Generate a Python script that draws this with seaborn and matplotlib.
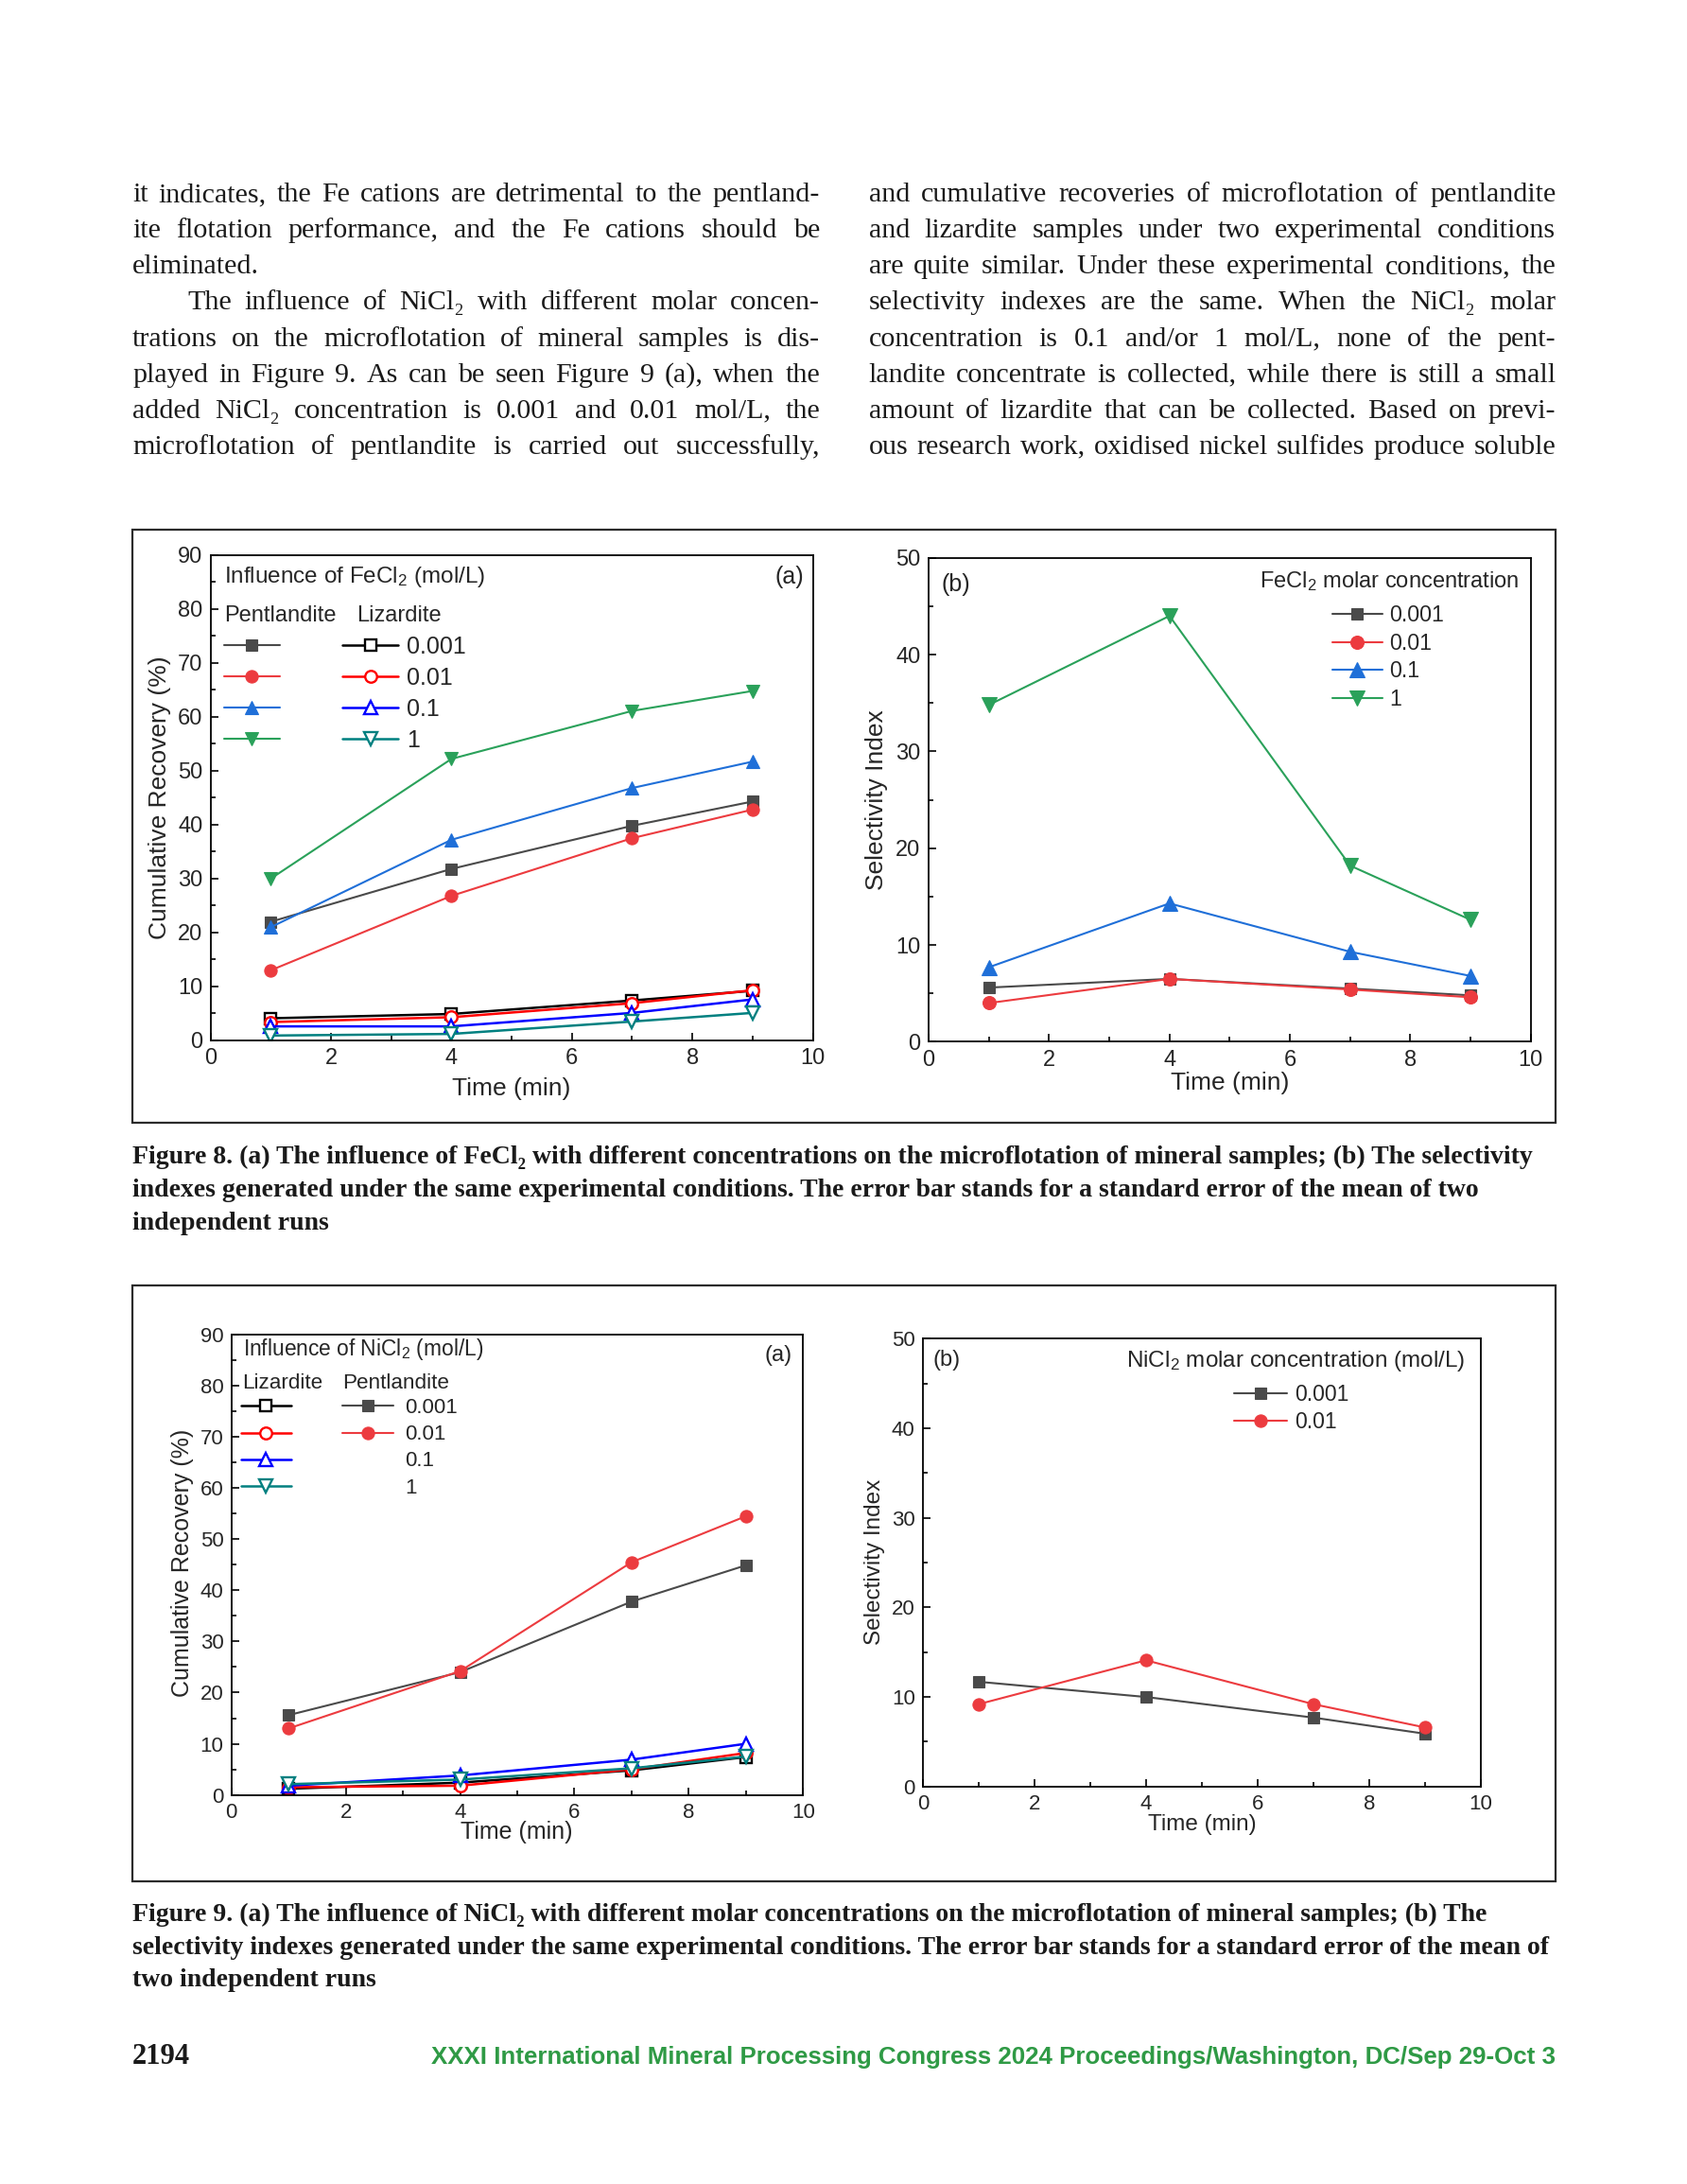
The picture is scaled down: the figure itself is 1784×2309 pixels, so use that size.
import matplotlib
matplotlib.use('Agg')
import matplotlib.pyplot as plt
import seaborn as sns
from matplotlib.lines import Line2D
from matplotlib.patches import Rectangle
from matplotlib.ticker import MultipleLocator

sns.set_style('ticks')
SANS = ['Liberation Sans', 'DejaVu Sans']
SERIF = ['Liberation Serif', 'DejaVu Serif']
plt.rcParams['font.family'] = SANS
plt.rcParams['mathtext.fontset'] = 'custom'
plt.rcParams['mathtext.rm'] = 'Liberation Sans'
plt.rcParams['mathtext.it'] = 'Liberation Sans:italic'

# ---------------------------------------------------------
# Data
# ---------------------------------------------------------
time_min = [1, 4, 7, 9]
conc_labels = ['0.001', '0.01', '0.1', '1']

# Figure 8 (a): FeCl2, cumulative recovery (%)
fe_pent_0001 = [22.0, 31.8, 39.8, 44.3]
fe_pent_001 = [13.0, 26.8, 37.5, 42.8]
fe_pent_01 = [21.0, 37.2, 46.8, 51.7]
fe_pent_1 = [30.0, 52.2, 61.1, 64.8]
fe_liz_0001 = [4.1, 4.9, 7.4, 9.2]
fe_liz_001 = [3.4, 4.3, 6.9, 9.3]
fe_liz_01 = [2.6, 2.6, 5.1, 7.6]
fe_liz_1 = [0.9, 1.2, 3.5, 5.1]

# Figure 8 (b): FeCl2, selectivity index
fe_sel_0001 = [5.6, 6.5, 5.5, 4.8]
fe_sel_001 = [4.0, 6.5, 5.4, 4.6]
fe_sel_01 = [7.7, 14.3, 9.3, 6.8]
fe_sel_1 = [34.8, 44.0, 18.2, 12.6]

# Figure 9 (a): NiCl2, cumulative recovery (%)
ni_pent_0001 = [15.6, 24.0, 37.8, 44.9]
ni_pent_001 = [13.0, 24.2, 45.5, 54.5]
ni_liz_0001 = [1.2, 2.4, 4.8, 7.4]
ni_liz_001 = [1.5, 1.8, 5.0, 8.2]
ni_liz_01 = [1.8, 3.8, 6.9, 10.0]
ni_liz_1 = [2.1, 3.0, 5.2, 7.5]

# Figure 9 (b): NiCl2, selectivity index
ni_sel_0001 = [11.7, 10.0, 7.7, 5.9]
ni_sel_001 = [9.2, 14.1, 9.2, 6.6]

left_column = [
    "it indicates, the Fe cations are detrimental to the pentland-",
    "ite flotation performance, and the Fe cations should be",
    "eliminated.",
    "The influence of NiCl\u2082 with different molar concen-",
    "trations on the microflotation of mineral samples is dis-",
    "played in Figure 9. As can be seen Figure 9 (a), when the",
    "added NiCl\u2082 concentration is 0.001 and 0.01 mol/L, the",
    "microflotation of pentlandite is carried out successfully,",
]
right_column = [
    "and cumulative recoveries of microflotation of pentlandite",
    "and lizardite samples under two experimental conditions",
    "are quite similar. Under these experimental conditions, the",
    "selectivity indexes are the same. When the NiCl\u2082 molar",
    "concentration is 0.1 and/or 1 mol/L, none of the pent-",
    "landite concentrate is collected, while there is still a small",
    "amount of lizardite that can be collected. Based on previ-",
    "ous research work, oxidised nickel sulfides produce soluble",
]
caption8 = [
    "Figure 8. (a) The influence of FeCl\u2082 with different concentrations on the microflotation of mineral samples; (b) The selectivity",
    "indexes generated under the same experimental conditions. The error bar stands for a standard error of the mean of two",
    "independent runs",
]
caption9 = [
    "Figure 9. (a) The influence of NiCl\u2082 with different molar concentrations on the microflotation of mineral samples; (b) The",
    "selectivity indexes generated under the same experimental conditions. The error bar stands for a standard error of the mean of",
    "two independent runs",
]
footer = 'XXXI International Mineral Processing Congress 2024 Proceedings/Washington, DC/Sep 29-Oct 3'

# ---------------------------------------------------------
# Styles
# ---------------------------------------------------------
PENT_COLORS = ['#4a4a4a', '#ec3b3f', '#1f6fd8', '#2aa15a']
LIZ_COLORS = ['#000000', '#ff0000', '#0000ff', '#008080']
MARKERS = ['s', 'o', '^', 'v']
MSIZE = [8.5, 9.5, 10.5, 10.5]

DPI = 100
FIG_W, FIG_H = 1784, 2309
PAGE_W, PAGE_H = 1210, 1566   # layout grid used for measuring the page


def fx(x):
    return x / PAGE_W


def fy(y):
    return 1 - y / PAGE_H


def rect(l, t, r, b):
    return [fx(l), fy(b), (r - l) / PAGE_W, (b - t) / PAGE_H]


def style_axes(ax, ymax, ystep, tick_size):
    ax.set_xlim(0, 10)
    ax.set_ylim(0, ymax)
    ax.xaxis.set_major_locator(MultipleLocator(2))
    ax.xaxis.set_minor_locator(MultipleLocator(1))
    ax.yaxis.set_major_locator(MultipleLocator(ystep))
    ax.yaxis.set_minor_locator(MultipleLocator(ystep / 2))
    ax.tick_params(which='both', direction='in', top=False, right=False,
                   width=1.2, color='black')
    ax.tick_params(which='major', length=6, pad=6, labelsize=tick_size)
    ax.tick_params(which='minor', length=3.5)
    for s in ax.spines.values():
        s.set_linewidth(1.3)
        s.set_color('black')
        s.set_visible(True)


def draw_series(ax, vals, color, marker, ms, open_marker=False, lw=1.5):
    sns.lineplot(x=time_min, y=vals, ax=ax, color=color, marker=marker,
                 markersize=ms, markeredgecolor=color,
                 markerfacecolor='white' if open_marker else color,
                 markeredgewidth=1.7 if open_marker else 0.8,
                 linewidth=lw, label='_s')


def set_labels(ax, xlab, ylab, size, xpos, ypos):
    ax.set_xlabel(xlab, fontsize=size, va='center')
    ax.set_ylabel(ylab, fontsize=size, va='center')
    ax.xaxis.set_label_coords(*xpos)
    ax.yaxis.set_label_coords(*ypos)


fig = plt.figure(figsize=(FIG_W / DPI, FIG_H / DPI), dpi=DPI)
fig.patch.set_facecolor('white')
renderer = fig.canvas.get_renderer()


def text_width(text, size, **kw):
    t = fig.text(0, 0, text, fontsize=size, **kw)
    w = t.get_window_extent(renderer).width
    t.remove()
    return w


def fit_size(lines, avail, base, **kw):
    # largest size at which every line keeps within its width
    ratios = [text_width(l, base, **kw) / (a / PAGE_W * FIG_W) for l, a in zip(lines, avail)]
    return base / max(ratios)


def body_line(text, x0, x1, y, size, justify=True):
    words = text.split(' ')
    arts = [fig.text(0, fy(y), w, fontsize=size, family=SERIF, va='baseline',
                     color='#1a1a1a') for w in words]
    widths = [a.get_window_extent(renderer).width for a in arts]
    left = x0 / PAGE_W * FIG_W
    right = x1 / PAGE_W * FIG_W
    if justify and len(words) > 1:
        gap = (right - left - sum(widths)) / (len(words) - 1)
    else:
        gap = size * DPI / 72 * 0.25
    pos = left
    for a, w in zip(arts, widths):
        a.set_x(pos / FIG_W)
        pos += w + gap


# ---------------------------------------------------------
# Body text (two justified columns)
# ---------------------------------------------------------
just_lines = [l for i, l in enumerate(left_column) if i != 2] + right_column
just_avail = [588 - (134.5 if l.startswith('The ') else 95) for l in just_lines[:7]] + [493] * 8
BODY_SIZE = fit_size(just_lines, just_avail, 20, family=SERIF) * 0.985
line_y = [144.7 + 25.8 * i for i in range(8)]
for i, line in enumerate(left_column):
    x0 = 134.5 if i == 3 else 95
    body_line(line, x0, 588, line_y[i], BODY_SIZE, justify=(i != 2))
for i, line in enumerate(right_column):
    body_line(line, 623, 1116, line_y[i], BODY_SIZE)

# Figure frames
for top, bot in [(380, 805), (922, 1349)]:
    fig.add_artist(Rectangle((fx(95), fy(bot)), (1116 - 95) / PAGE_W,
                             (bot - top) / PAGE_H, transform=fig.transFigure,
                             fill=False, lw=1.6, ec='#2b2b2b'))

# ---------------------------------------------------------
# Figure 8 (a)
# ---------------------------------------------------------
ax = fig.add_axes(rect(151, 398, 583, 746))
pent = [fe_pent_0001, fe_pent_001, fe_pent_01, fe_pent_1]
liz = [fe_liz_0001, fe_liz_001, fe_liz_01, fe_liz_1]
for vals, c, m, ms in zip(pent, PENT_COLORS, MARKERS, MSIZE):
    draw_series(ax, vals, c, m, ms)
for vals, c, m, ms in zip(liz, LIZ_COLORS, MARKERS, MSIZE):
    draw_series(ax, vals, c, m, ms - 0.5, open_marker=True, lw=1.8)
style_axes(ax, 90, 10, 17)
set_labels(ax, 'Time (min)', 'Cumulative Recovery (%)', 19, (0.5, -0.100), (-0.084, 0.5))
handles = ax.get_lines()[:8]
ax.legend(handles=handles, labels=[''] * 4 + conc_labels, ncol=2, frameon=False,
          loc='upper left', bbox_to_anchor=(0.022, 0.834), borderpad=0,
          borderaxespad=0, handlelength=2.36, handletextpad=0.34,
          columnspacing=2.32, labelspacing=0.36, prop={'family': SANS, 'size': 18})
ax.text(0.023, 0.954, 'Influence of FeCl$_2$ (mol/L)', transform=ax.transAxes,
        fontsize=17.5, va='center', ha='left')
ax.text(0.985, 0.954, '(a)', transform=ax.transAxes, fontsize=18, va='center', ha='right')
ax.text(0.023, 0.874, 'Pentlandite', transform=ax.transAxes, fontsize=17, va='center')
ax.text(0.243, 0.874, 'Lizardite', transform=ax.transAxes, fontsize=17, va='center')

# ---------------------------------------------------------
# Figure 8 (b)
# ---------------------------------------------------------
ax = fig.add_axes(rect(666, 400, 1098, 747))
sel = [fe_sel_0001, fe_sel_001, fe_sel_01, fe_sel_1]
for vals, c, m, ms in zip(sel, PENT_COLORS, MARKERS, MSIZE):
    draw_series(ax, vals, c, m, ms + 0.5)
style_axes(ax, 50, 10, 17)
set_labels(ax, 'Time (min)', 'Selectivity Index', 19, (0.5, -0.0856), (-0.087, 0.5))
ax.legend(handles=ax.get_lines()[:4], labels=conc_labels, frameon=False,
          loc='upper left', bbox_to_anchor=(0.670, 0.903), borderpad=0,
          borderaxespad=0, handlelength=2.29, handletextpad=0.3,
          labelspacing=0.28, prop={'family': SANS, 'size': 16.7})
ax.text(0.981, 0.9516, 'FeCl$_2$ molar concentration', transform=ax.transAxes,
        fontsize=17, va='center', ha='right')
ax.text(0.021, 0.944, '(b)', transform=ax.transAxes, fontsize=18, va='center')

# ---------------------------------------------------------
# Figure 9 (a)
# ---------------------------------------------------------
ax = fig.add_axes(rect(166, 957, 576, 1287))
liz = [ni_liz_0001, ni_liz_001, ni_liz_01, ni_liz_1]
pent = [ni_pent_0001, ni_pent_001]
for vals, c, m, ms in zip(liz, LIZ_COLORS, MARKERS, MSIZE):
    draw_series(ax, vals, c, m, ms - 0.5, open_marker=True, lw=1.8)
for vals, c, m, ms in zip(pent, PENT_COLORS, MARKERS, MSIZE):
    draw_series(ax, vals, c, m, ms)
style_axes(ax, 90, 10, 16)
set_labels(ax, 'Time (min)', 'Cumulative Recovery (%)', 18, (0.4993, -0.080), (-0.086, 0.5036))
blank = Line2D([], [], linestyle='none')
handles = ax.get_lines()[:6] + [blank, blank]
ax.legend(handles=handles, labels=[''] * 4 + conc_labels, ncol=2, frameon=False,
          loc='upper left', bbox_to_anchor=(0.0163, 0.862), borderpad=0,
          borderaxespad=0, handlelength=2.42, handletextpad=0.53,
          columnspacing=1.9, labelspacing=0.32, prop={'family': SANS, 'size': 16})
ax.text(0.0195, 0.968, 'Influence of NiCl$_2$ (mol/L)', transform=ax.transAxes,
        fontsize=16.4, va='center', ha='left')
ax.text(0.981, 0.9545, '(a)', transform=ax.transAxes, fontsize=17, va='center', ha='right')
ax.text(0.0195, 0.8945, 'Lizardite', transform=ax.transAxes, fontsize=16.2, va='center')
ax.text(0.1934, 0.8945, 'Pentlandite', transform=ax.transAxes, fontsize=16.2, va='center')

# ---------------------------------------------------------
# Figure 9 (b)
# ---------------------------------------------------------
ax = fig.add_axes(rect(662, 960, 1062, 1281))
sel = [ni_sel_0001, ni_sel_001]
for vals, c, m, ms in zip(sel, PENT_COLORS, MARKERS, MSIZE):
    draw_series(ax, vals, c, m, ms)
style_axes(ax, 50, 10, 16)
set_labels(ax, 'Time (min)', 'Selectivity Index', 17.5, (0.501, -0.0857), (-0.0865, 0.5016))
ax.legend(handles=ax.get_lines()[:2], labels=conc_labels[:2], frameon=False,
          loc='upper left', bbox_to_anchor=(0.5575, 0.900), borderpad=0,
          borderaxespad=0, handlelength=2.43, handletextpad=0.34,
          labelspacing=0.25, prop={'family': SANS, 'size': 16.6})
ax.text(0.9715, 0.950, 'NiCl$_2$ molar concentration (mol/L)', transform=ax.transAxes,
        fontsize=17.5, va='center', ha='right')
ax.text(0.0175, 0.953, '(b)', transform=ax.transAxes, fontsize=17, va='center')

# ---------------------------------------------------------
# Captions and footer
# ---------------------------------------------------------
CAP_SIZE = fit_size([caption8[0], caption9[1]], [1011, 1013], 18,
                    family=SERIF, fontweight='bold')
for i, line in enumerate(caption8):
    fig.text(fx(95), fy(834.5 + 23.5 * i), line, fontsize=CAP_SIZE, family=SERIF,
             fontweight='bold', va='baseline', color='#1a1a1a')
for i, line in enumerate(caption9):
    fig.text(fx(95), fy(1377.5 + 23.5 * i), line, fontsize=CAP_SIZE, family=SERIF,
             fontweight='bold', va='baseline', color='#1a1a1a')

fig.text(fx(95), fy(1480), '2194', fontsize=22, family=SERIF, fontweight='bold',
         va='baseline', color='#1a1a1a')
FOOT_SIZE = fit_size([footer], [808], 17, family=SANS, fontweight='bold')
fig.text(fx(1116), fy(1480), footer, fontsize=FOOT_SIZE, family=SANS,
         fontweight='bold', va='baseline', ha='right', color='#2f9a45')

fig.savefig('out.png', dpi=DPI, facecolor='white')
